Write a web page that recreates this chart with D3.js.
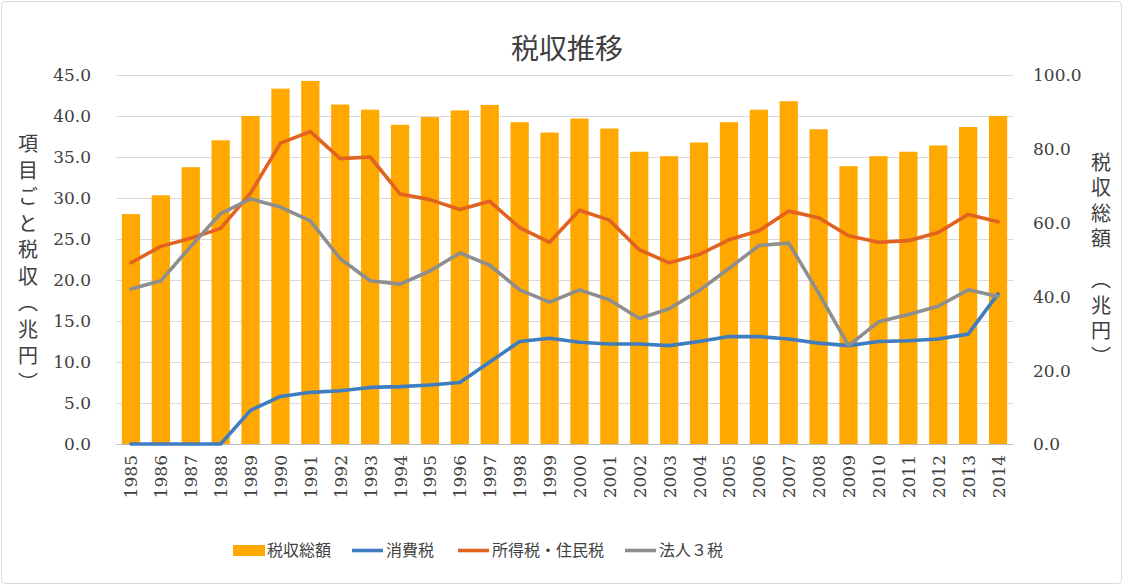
<!DOCTYPE html>
<html><head><meta charset="utf-8">
<script src="https://cdn.jsdelivr.net/npm/d3@7"></script>
<style>
html,body{margin:0;padding:0;background:#fff;}
svg{display:block;}
.cjk{font-family:"Noto Sans CJK JP","Noto Sans CJK SC",sans-serif;}
.num{font-family:"DejaVu Serif","Liberation Serif",serif;}
</style></head>
<body>
<svg id="chart" width="1124" height="586"></svg>
<script>
const years = ["1985","1986","1987","1988","1989","1990","1991","1992","1993","1994","1995","1996","1997","1998","1999","2000","2001","2002","2003","2004","2005","2006","2007","2008","2009","2010","2011","2012","2013","2014"];
// 税収総額 (right axis)
const totalTax = [62.3,67.4,75.0,82.3,88.9,96.3,98.4,92.0,90.6,86.5,88.6,90.4,91.9,87.2,84.4,88.2,85.5,79.2,78.0,81.7,87.2,90.6,92.9,85.3,75.3,78.0,79.2,80.9,85.9,88.9];
// 消費税 (left axis)
const consumptionTax = [0,0,0,0,4.1,5.8,6.3,6.5,6.9,7.0,7.2,7.5,10.0,12.5,12.9,12.4,12.2,12.2,12.0,12.5,13.1,13.1,12.8,12.3,12.0,12.5,12.6,12.8,13.4,18.3];
// 所得税・住民税 (left axis)
const incomeTax = [22.1,24.1,25.1,26.3,30.6,36.7,38.1,34.8,35.0,30.5,29.8,28.6,29.6,26.4,24.6,28.5,27.3,23.7,22.1,23.1,24.9,26.0,28.4,27.6,25.4,24.6,24.8,25.8,28.0,27.1];
// 法人３税 (left axis)
const corporateTax = [18.9,19.9,24.1,28.1,29.9,28.9,27.2,22.6,19.9,19.5,21.1,23.3,21.8,18.8,17.3,18.8,17.6,15.3,16.5,18.7,21.4,24.2,24.5,18.4,12.0,14.9,15.8,16.8,18.8,18.0];
const leftTicks = [0,5,10,15,20,25,30,35,40,45];
const rightTicks = [0,20,40,60,80,100];
const title = "税収推移";
const leftTitle = "項目ごと税収（兆円）";
const rightTitle = "税収総額　（兆円）";
const legendLabels = ["税収総額","消費税","所得税・住民税","法人３税"];

const colors = {bar:"#FFA800", blue:"#3F7DC1", orange:"#E2621F", gray:"#8E8E8E"};
const textColor = "#404040";

const svg = d3.select("#chart");
const m = {l:116, r:1013, t:75, b:444};

svg.append("rect").attr("x",1.5).attr("y",1.5).attr("width",1120).attr("height",582)
  .attr("rx",4).attr("fill","#fff").attr("stroke","#d9d9d9").attr("stroke-width",1);

const x = d3.scaleBand().domain(years).range([m.l,m.r]).paddingInner(0.39).paddingOuter(0.195);
const xc = d3.scalePoint().domain(years).range([m.l,m.r]).padding(0.5);
const yL = d3.scaleLinear().domain([0,45]).range([m.b,m.t]);
const yR = d3.scaleLinear().domain([0,100]).range([m.b,m.t]);

// gridlines
svg.append("g").selectAll("line").data(leftTicks.filter(d=>d>0)).join("line")
  .attr("x1",m.l).attr("x2",m.r).attr("y1",d=>yL(d)+0.5).attr("y2",d=>yL(d)+0.5)
  .attr("stroke","#d9d9d9").attr("stroke-width",1);

// bars
svg.append("g").selectAll("rect").data(years).join("rect")
  .attr("x",d=>x(d)).attr("width",x.bandwidth())
  .attr("y",(d,i)=>yR(totalTax[i])).attr("height",(d,i)=>yR(0)-yR(totalTax[i]))
  .attr("fill",colors.bar);

// baseline
svg.append("line").attr("x1",m.l).attr("x2",m.r).attr("y1",m.b+0.5).attr("y2",m.b+0.5)
  .attr("stroke","#bfbfbf").attr("stroke-width",1);

// lines
const line = d3.line().x((d,i)=>xc(years[i])).y(d=>yL(d));
[[consumptionTax,colors.blue],[incomeTax,colors.orange],[corporateTax,colors.gray]].forEach(([data,c])=>{
  svg.append("path").datum(data).attr("d",line).attr("fill","none").attr("stroke",c)
    .attr("stroke-width",3.6).attr("stroke-linejoin","round").attr("stroke-linecap","round");
});

// left axis
const axL = d3.axisLeft(yL).tickValues(leftTicks).tickFormat(d3.format(".1f")).tickSize(0).tickPadding(0);
const gL = svg.append("g").attr("transform",`translate(91,0)`).call(axL);
gL.select(".domain").remove();
gL.selectAll("text").attr("class","num").attr("font-size",17).attr("fill",textColor).attr("dy","0.35em");

const axR = d3.axisRight(yR).tickValues(rightTicks).tickFormat(d3.format(".1f")).tickSize(0).tickPadding(0);
const gR = svg.append("g").attr("transform",`translate(1033,0)`).call(axR);
gR.select(".domain").remove();
gR.selectAll("text").attr("class","num").attr("font-size",17).attr("fill",textColor).attr("dy","0.35em");

// x axis
const axX = d3.axisBottom(xc).tickSize(0).tickPadding(0);
const gX = svg.append("g").attr("transform",`translate(0,${m.b})`).call(axX);
gX.select(".domain").remove();
gX.selectAll("text").attr("class","num").attr("font-size",17).attr("fill",textColor)
  .attr("text-anchor","end").attr("transform","rotate(-90)").attr("x",-11).attr("y",0).attr("dy","0.35em");

// title
svg.append("text").attr("class","cjk").attr("x",567).attr("y",59).attr("text-anchor","middle")
  .attr("font-size",28).attr("fill",textColor).text(title);

// axis titles (vertical)
svg.append("text").attr("class","cjk").attr("x",28).attr("y",266).attr("text-anchor","middle")
  .attr("font-size",20).attr("fill",textColor).style("writing-mode","vertical-rl")
  .style("letter-spacing","6.5px").text(leftTitle);
svg.append("text").attr("class","cjk").attr("x",1101).attr("y",262).attr("text-anchor","middle")
  .attr("font-size",20).attr("fill",textColor).style("writing-mode","vertical-rl")
  .style("letter-spacing","5.5px").text(rightTitle);

// legend
const lg = svg.append("g");
const legendItems = [
  {label:legendLabels[0], color:colors.bar, type:"rect", x:233},
  {label:legendLabels[1], color:colors.blue, type:"line", x:352},
  {label:legendLabels[2], color:colors.orange, type:"line", x:458},
  {label:legendLabels[3], color:colors.gray, type:"line", x:625}
];
legendItems.forEach(it=>{
  if(it.type==="rect"){
    lg.append("rect").attr("x",it.x).attr("y",545).attr("width",32).attr("height",11).attr("fill",it.color);
  } else {
    lg.append("line").attr("x1",it.x).attr("x2",it.x+31).attr("y1",550.5).attr("y2",550.5)
      .attr("stroke",it.color).attr("stroke-width",3.6);
  }
  lg.append("text").attr("class","cjk").attr("x",it.x+34).attr("y",550).attr("dy","0.35em")
    .attr("font-size",16).attr("fill",textColor).text(it.label);
});
</script>
</body></html>
